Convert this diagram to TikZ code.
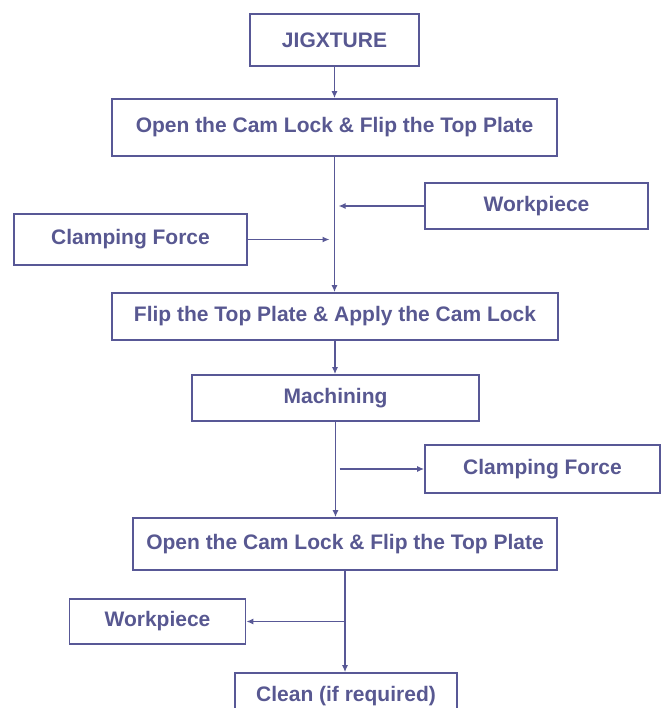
\documentclass[tikz,border=0pt]{standalone}
\usepackage{fontspec}
\usepackage{xcolor}
\usetikzlibrary{arrows.meta}
\newfontfamily\boxfont{Liberation Sans}
\definecolor{flowline}{RGB}{88,88,150}
\definecolor{flowtext}{RGB}{88,88,145}

\begin{document}
\begin{tikzpicture}[x=1pt, y=-1pt,
    stepbox/.style={draw=flowline, line width=1.7pt, rectangle, text=flowtext,
        font=\boxfont\bfseries\fontsize{21}{24}\selectfont, inner sep=0pt},
    flow/.style={draw=flowline, line width=1.3pt, -{Latex[length=7pt,width=6pt]}}]
    \useasboundingbox (0,0) rectangle (661,708);

    % Main column
    \node[stepbox, minimum width=169, minimum height=52] (jig) at (334.5,40) {JIGXTURE};
    \node[stepbox, minimum width=445, minimum height=57] (open1) at (334.5,127.5) {Open the Cam Lock \& Flip the Top Plate};
    \node[stepbox, minimum width=446, minimum height=47] (flip) at (335,316.5) {Flip the Top Plate \& Apply the Cam Lock};
    \node[stepbox, minimum width=287, minimum height=46] (mach) at (335.5,398) {Machining};
    \node[stepbox, minimum width=424, minimum height=52] (open2) at (345,544) {Open the Cam Lock \& Flip the Top Plate};
    \node[stepbox, minimum width=222, minimum height=46] (clean) at (346,696) {Clean (if required)};

    % Side boxes
    \node[stepbox, minimum width=223, minimum height=46] (work1) at (536.5,206) {Workpiece};
    \node[stepbox, minimum width=233, minimum height=51] (clamp1) at (130.5,239.5) {Clamping Force};
    \node[stepbox, minimum width=235, minimum height=48] (clamp2) at (542.5,469) {Clamping Force};
    \node[stepbox, minimum width=176, minimum height=45] (work2) at (157.5,621.5) {Workpiece};

    % Branch points
    \coordinate (in1) at ([xshift=4]open1.south |- work1.west);
    \coordinate (in2) at ([xshift=-5]open1.south |- clamp1.east);
    \coordinate (out1) at ([xshift=4]mach.south |- clamp2.west);
    \coordinate (out2) at (open2.south |- work2.east);

    % Arrows
    \draw[flow] (jig) -- (open1);
    \draw[flow] (open1.south) -- (open1.south |- flip.north);
    \draw[flow] (work1) -- (in1);
    \draw[flow] (clamp1) -- (in2);
    \draw[flow] (flip.south) -- (flip.south |- mach.north);
    \draw[flow] (mach.south) -- (mach.south |- open2.north);
    \draw[flow] (out1) -- (clamp2);
    \draw[flow] (open2.south) -- (open2.south |- clean.north);
    \draw[flow] (out2) -- (work2);
\end{tikzpicture}
\end{document}
